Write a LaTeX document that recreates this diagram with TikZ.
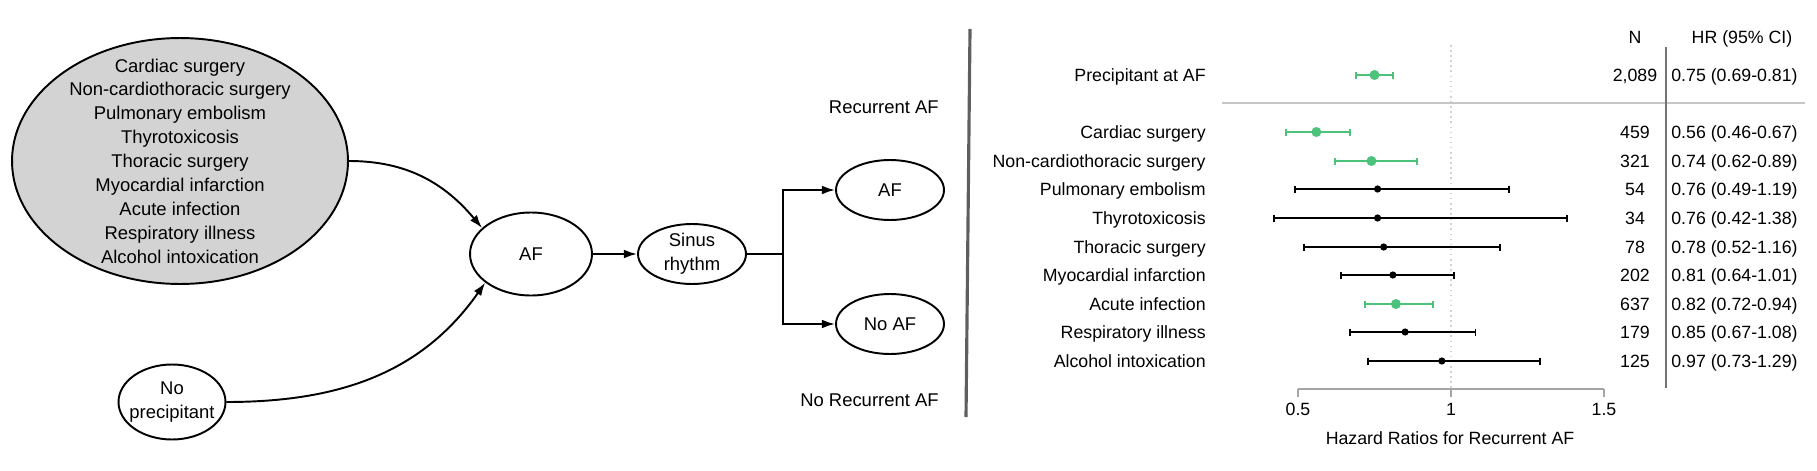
\documentclass[tikz,border=0pt]{standalone}
\usepackage{fontspec}
\setmainfont{Liberation Sans}
\usetikzlibrary{shapes.geometric,arrows.meta}

\definecolor{afgreen}{RGB}{76,194,122}
\definecolor{precgray}{RGB}{211,211,211}
\definecolor{axisgray}{RGB}{165,165,165}
\definecolor{divgray}{RGB}{95,95,95}

\begin{document}
\begin{tikzpicture}[x=0.02cm, y=-0.02cm,
    state/.style={ellipse, draw, line width=1.1pt, inner sep=0pt, align=center},
    flow/.style={-{Latex[length=7.5pt,width=5pt]}, line width=1.1pt},
    diag/.style={font=\fontsize{10.5pt}{13.6pt}\selectfont},
    plot/.style={font=\fontsize{10.1pt}{12pt}\selectfont, inner sep=0pt,
                 text height=7.2pt, text depth=0pt}]

    \useasboundingbox (0,0) rectangle (1817,470);

    % precipitants
    \node[state, fill=precgray, minimum width=6.72cm, minimum height=4.92cm] (prec) at (180,161) {};
    \node[diag, align=center] (preclist) at (prec) {Cardiac surgery\\Non-cardiothoracic surgery\\Pulmonary embolism\\Thyrotoxicosis\\Thoracic surgery\\Myocardial infarction\\Acute infection\\Respiratory illness\\Alcohol intoxication};
    \node[state, diag, inner xsep=-3pt, minimum width=2.14cm, minimum height=1.5cm] (noprec) at (172,402) {No\\precipitant};

    % af and sinus rhythm
    \node[state, diag, minimum width=2.44cm, minimum height=1.66cm] (af) at (531,254) {AF};
    \node[state, diag, minimum width=2.16cm, minimum height=1.2cm] (sinus) at (692,254) {Sinus\\rhythm};
    \node[state, diag, minimum width=2.16cm, minimum height=1.2cm] (recur) at (890,190) {AF};
    \node[state, diag, minimum width=2.16cm, minimum height=1.2cm] (norecur) at (890,324) {No AF};
    \coordinate (split) at (783,254);

    % arrows
    \draw[flow] (prec.east) to[out=0, in=130] (af.152);
    \draw[flow] (noprec.east) to[out=0, in=235] (af.212);
    \draw[flow] (af) -- (sinus);
    \draw[line width=1.1pt] (sinus) -- (split);
    \draw[flow] (split) |- (recur);
    \draw[flow] (split) |- (norecur);

    % outcome labels
    \node[diag, anchor=east, inner sep=0pt, text height=7.6pt, text depth=0pt] (recurlab) at (939,107) {Recurrent AF};
    \node[diag, anchor=east, inner sep=0pt, text height=7.6pt, text depth=0pt] (norecurlab) at (939,400) {No Recurrent AF};

    % divider
    \coordinate (divtop) at (970,29);
    \coordinate (divbot) at (966,417);
    \draw[divgray, line width=1.8pt] (divtop) -- (divbot);

    % forest plot: x = Xo + Xs * HR
    \def\Xo{1145}
    \def\Xs{306}

    % reference line at HR = 1
    \draw[gray!35, dotted, line width=0.9pt] ({\Xo+\Xs},45) -- ({\Xo+\Xs},389);

    % table header and rules
    \node[plot] (headN) at (1635,37) {N};
    \node[plot] (headHR) at (1742,37) {HR (95\% CI)};
    \draw[gray!45, line width=0.7pt] (1222,103) -- (1805,103);
    \draw[gray!90!black, line width=0.7pt] (1666,47) -- (1666,388);

    % rows
    \foreach \y/\name/\n/\hr/\lo/\hi/\col/\r in {
        75/Precipitant at AF/{2,089}/0.75/0.69/0.81/afgreen/5,
        132/Cardiac surgery/459/0.56/0.46/0.67/afgreen/5,
        161/Non-cardiothoracic surgery/321/0.74/0.62/0.89/afgreen/5,
        189/Pulmonary embolism/54/0.76/0.49/1.19/black/3.6,
        218/Thyrotoxicosis/34/0.76/0.42/1.38/black/3.6,
        247/Thoracic surgery/78/0.78/0.52/1.16/black/3.6,
        275/Myocardial infarction/202/0.81/0.64/1.01/black/3.6,
        304/Acute infection/637/0.82/0.72/0.94/afgreen/5,
        332/Respiratory illness/179/0.85/0.67/1.08/black/3.6,
        361/Alcohol intoxication/125/0.97/0.73/1.29/black/3.6} {
        \node[plot, anchor=east] (lab\y) at (1206,\y) {\name};
        \node[plot] (n\y) at (1635,\y) {\n};
        \node[plot, anchor=west] (hr\y) at (1671,\y) {\hr\ (\lo-\hi)};
        \draw[\col, line width=1.1pt] ({\Xo+\Xs*\lo},\y) -- ({\Xo+\Xs*\hi},\y);
        \draw[\col, line width=1.1pt] ({\Xo+\Xs*\lo},{\y-3.5}) -- ++(0,7);
        \draw[\col, line width=1.1pt] ({\Xo+\Xs*\hi},{\y-3.5}) -- ++(0,7);
        \fill[\col] ({\Xo+\Xs*\hr},\y) circle (\r);
    }

    % axis
    \draw[axisgray, line width=0.8pt] ({\Xo+\Xs*0.5},389) -- ({\Xo+\Xs*1.5},389);
    \foreach \t/\k in {0.5/a,1/b,1.5/c} {
        \draw[axisgray, line width=0.8pt] ({\Xo+\Xs*\t},389) -- ++(0,8);
        \node[plot] (tick\k) at ({\Xo+\Xs*\t},409) {\t};
    }
    \node[plot] (axtitle) at (1450,438) {Hazard Ratios for Recurrent AF};

\end{tikzpicture}
\end{document}
